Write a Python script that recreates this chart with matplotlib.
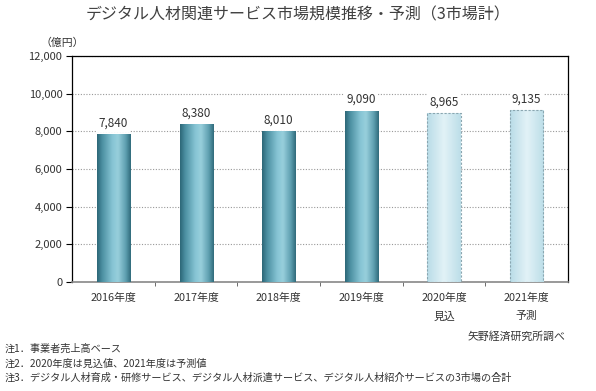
import matplotlib.pyplot as plt
import numpy as np
from matplotlib.colors import LinearSegmentedColormap

plt.rcParams['font.family'] = ['Noto Sans CJK JP', 'DejaVu Sans']

## data
years = ['2016年度', '2017年度', '2018年度', '2019年度', '2020年度\n見込', '2021年度\n予測']
values = [7840, 8380, 8010, 9090, 8965, 9135]
is_forecast = [False, False, False, False, True, True]

title = 'デジタル人材関連サービス市場規模推移・予測（3市場計）'
notes = ['注1．事業者売上高ベース',
         '注2．2020年度は見込値、2021年度は予測値',
         '注3．デジタル人材育成・研修サービス、デジタル人材派遣サービス、デジタル人材紹介サービスの3市場の合計']

## cylinder-like gradients
solid_cmap = LinearSegmentedColormap.from_list(
    'solid', [(0.0, '#2c6676'), (0.15, '#4b8fa1'), (0.45, '#86c4d4'),
              (0.62, '#98cfdc'), (0.85, '#5e9fb0'), (1.0, '#2f6a7a')])
light_cmap = LinearSegmentedColormap.from_list(
    'light', [(0.0, '#b9dce7'), (0.5, '#e2f2f7'), (1.0, '#bcdee8')])

fig = plt.figure(figsize=(5.96, 3.91), dpi=100)
ax = fig.add_axes([0.121, 0.279, 0.832, 0.578])

x = np.arange(len(years))
bars = ax.bar(x, values, width=0.4, color='none', zorder=3)

grad = np.linspace(0, 1, 256).reshape(1, -1)
for b, fc in zip(bars, is_forecast):
    x0, w, h = b.get_x(), b.get_width(), b.get_height()
    im = ax.imshow(grad, cmap=light_cmap if fc else solid_cmap, aspect='auto',
                   extent=[x0, x0 + w, 0, h], zorder=3, interpolation='bicubic')
    im.set_clip_path(b)
    if fc:
        b.set_edgecolor('#8aa6b0')
        b.set_linestyle((0, (2, 1.5)))
        b.set_linewidth(0.8)
        b.set_zorder(4)

for xi, v in zip(x, values):
    ax.text(xi, v + 250, f'{v:,}', ha='center', va='bottom', fontsize=8.5,
            color='#333333', zorder=5,
            bbox=dict(facecolor='white', edgecolor='none', pad=1.5))

ax.set_xlim(-0.5, len(years) - 0.5)
ax.set_ylim(0, 12000)
ax.set_yticks(np.arange(0, 12001, 2000))
ax.set_yticklabels([f'{t:,}' for t in range(0, 12001, 2000)], fontsize=8, color='#333333')
ax.yaxis.grid(True, linestyle=(0, (1, 1.5)), color='#999999', linewidth=0.8, zorder=0)
ax.set_axisbelow(True)

ax.set_xticks(x)
ax.set_xticklabels(years, fontsize=7.8, color='#333333', linespacing=2.0, va='top')
ax.tick_params(axis='x', length=0, pad=8)
ax.set_xticks(np.arange(0.5, len(years) - 0.5, 1), minor=True)
ax.tick_params(axis='x', which='minor', length=3, direction='out', color='#555555')
ax.tick_params(axis='y', length=4, direction='out', width=0.8, pad=3)

for s in ['left', 'top', 'right']:
    ax.spines[s].set_color('black')
    ax.spines[s].set_linewidth(0.9)
ax.spines['bottom'].set_color('#888888')
ax.spines['bottom'].set_linewidth(1.2)

fig.text(0.5, 0.962, title, ha='center', va='center', fontsize=11.5, color='#404040')
fig.text(0.105, 0.89, '（億円）', ha='center', va='center', fontsize=7.8, color='#333333')
fig.text(0.948, 0.138, '矢野経済研究所調べ', ha='right', va='center', fontsize=7.8, color='#333333')
for i, n in enumerate(notes):
    fig.text(0.007, 0.107 - i * 0.036, n, ha='left', va='center', fontsize=7.3, color='#333333')

fig.savefig('out.png', dpi=100, facecolor='white')
